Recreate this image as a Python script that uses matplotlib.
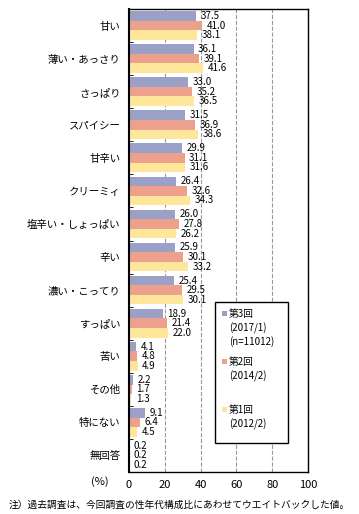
import matplotlib.pyplot as plt
import numpy as np
from matplotlib.patches import Rectangle

plt.rcParams['font.family'] = ['Noto Sans CJK JP', 'DejaVu Sans']

# data
categories = ['甘い', '薄い・あっさり', 'さっぱり', 'スパイシー', '甘辛い', 'クリーミィ',
              '塩辛い・しょっぱい', '辛い', '濃い・こってり', 'すっぱい', '苦い', 'その他',
              '特にない', '無回答']
wave3 = [37.5, 36.1, 33.0, 31.5, 29.9, 26.4, 26.0, 25.9, 25.4, 18.9, 4.1, 2.2, 9.1, 0.2]
wave2 = [41.0, 39.1, 35.2, 36.9, 31.1, 32.6, 27.8, 30.1, 29.5, 21.4, 4.8, 1.7, 6.4, 0.2]
wave1 = [38.1, 41.6, 36.5, 38.6, 31.6, 34.3, 26.2, 33.2, 30.1, 22.0, 4.9, 1.3, 4.5, 0.2]
series_lines = [['第3回', '(2017/1)', '(n=11012)'], ['第2回', '(2014/2)'], ['第1回', '(2012/2)']]
colors = ['#9aa0c6', '#eda08b', '#fee69b']

W, H = 359, 514
fig = plt.figure(figsize=(W / 100, H / 100), dpi=100)
ax = fig.add_axes([0.359, 0.0817, 0.499, 0.9008])

y = np.arange(len(categories))
h = 0.29
for i, (vals, c) in enumerate(zip([wave3, wave2, wave1], colors)):
    pos = y - h + i * h
    ax.barh(pos, vals, height=h, color=c, zorder=2)
    for p, v in zip(pos, vals):
        ax.text(v + 2.5, p, f'{v:.1f}', va='center', ha='left', fontsize=7)

ax.set_xlim(0, 100)
ax.set_ylim(len(categories) - 0.5, -0.5)
ax.set_xticks([0, 20, 40, 60, 80, 100])
ax.tick_params(axis='x', length=0, labelsize=8, pad=6)
ax.set_yticks(y)
ax.set_yticklabels(categories, fontsize=7.5)
ax.tick_params(axis='y', which='major', length=0, pad=6)
ax.set_yticks(np.arange(len(categories) + 1) - 0.5, minor=True)
ax.tick_params(axis='y', which='minor', length=3, direction='in')
ax.xaxis.grid(True, linestyle='--', color='#999999', linewidth=0.8, zorder=0)
ax.set_axisbelow(True)
for s in ax.spines.values():
    s.set_linewidth(1)
ax.spines['left'].set_linewidth(1.5)

# legend box drawn by hand so the swatch sits on the first line
ax.add_patch(Rectangle((0.48, 0.0626), 0.408, 0.305, transform=ax.transAxes,
                       facecolor='white', edgecolor='black', linewidth=1, zorder=5))
first_y = [314, 362, 410]
for lines, c, yy in zip(series_lines, colors, first_y):
    fig.add_artist(Rectangle((222 / W, 1 - (yy + 2) / H), 5 / W, 5 / H,
                             transform=fig.transFigure, facecolor=c, edgecolor='none', zorder=6))
    for k, line in enumerate(lines):
        fig.text(229 / W, 1 - (yy + 14 * k) / H, line, fontsize=7, va='center', ha='left',
                 zorder=6)

fig.text(100 / W, 1 - 482 / H, '(%)', fontsize=8, ha='center', va='center')
fig.text(0.5, 1 - 505 / H, '注）過去調査は、今回調査の性年代構成比にあわせてウエイトバックした値。',
         fontsize=7, ha='center', va='center')

fig.savefig('out.png', dpi=100)
